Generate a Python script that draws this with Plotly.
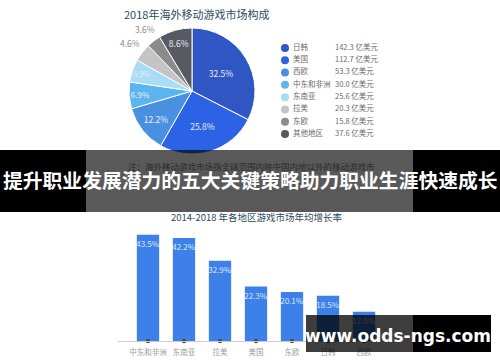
import math
import plotly.graph_objects as go

# ---------------- data ----------------
pie_regions = ['日韩', '美国', '西欧', '中东和非洲', '东南亚', '拉美', '东欧', '其他地区']
pie_values = [142.3, 112.7, 53.3, 30.0, 25.6, 20.3, 15.8, 37.6]
pie_value_labels = ['142.3 亿美元', '112.7 亿美元', '53.3 亿美元', '30.0 亿美元',
                    '25.6 亿美元', '20.3 亿美元', '15.8 亿美元', '37.6 亿美元']
pie_colors = ['#2f56c2', '#2c63e6', '#4a90e2', '#5cb5ee', '#a9dcf6',
              '#c4c4c4', '#8b8b8b', '#575b61']

bar_regions = ['中东和非洲', '东南亚', '拉美', '美国', '东欧', '日韩', '西欧']
bar_values = [43.5, 42.2, 32.9, 22.3, 20.1, 18.5, 12.0]

pie_title = '2018年海外移动游戏市场构成'
bar_title = '2014-2018 年各地区游戏市场年均增长率'
note_text = '注：海外移动游戏市场指全球范围内除中国内地以外的移动游戏市'
banner_title = '提升职业发展潜力的五大关键策略助力职业生涯快速成长'
watermark = 'www.odds-ngs.com'

# ---------------- layout helpers ----------------
W, H = 500, 362
FONT = 'Noto Sans CJK SC'


def px(x):
    return x / W


def py(y):
    return 1 - y / H


def note(x, y, text, size, color, family=FONT):
    return dict(x=px(x), y=py(y), xref='paper', yref='paper', text=text,
                showarrow=False, xanchor='center', yanchor='middle',
                font=dict(family=family, size=size, color=color))


PIE_CX, PIE_CY, PIE_R = 192, 91, 63

fig = go.Figure()

# ---------------- pie ----------------
total = sum(pie_values)
shares = [v / total for v in pie_values]
texts = [f'{s*100:.1f}%' if s >= 0.05 else '' for s in shares]

fig.add_trace(go.Pie(
    labels=pie_regions, values=pie_values, sort=False, direction='clockwise',
    rotation=0, text=texts, textinfo='text', textposition='inside',
    insidetextorientation='horizontal',
    textfont=dict(family=FONT, size=8.5, color='#e9eefa'),
    marker=dict(colors=pie_colors, line=dict(color='#ffffff', width=1)),
    domain=dict(x=[px(PIE_CX - PIE_R), px(PIE_CX + PIE_R)],
                y=[py(PIE_CY + PIE_R), py(PIE_CY - PIE_R)]),
    showlegend=False, hoverinfo='label+value'))

annotations = []
cum = 0.0
for s in shares:
    mid = cum + s / 2
    cum += s
    if s < 0.05:
        th = 2 * math.pi * mid
        rr = PIE_R + 15
        annotations.append(note(PIE_CX + rr * math.sin(th), PIE_CY - rr * math.cos(th),
                                f'{s*100:.1f}%', 8.5, '#8a8a8a'))

# ---------------- legend (scatter on own axes) ----------------
rows = list(range(len(pie_regions)))
fig.add_trace(go.Scatter(
    x=[10] * len(rows), y=rows, mode='markers', xaxis='x3', yaxis='y3',
    marker=dict(size=8, color=pie_colors), showlegend=False, hoverinfo='skip'))
fig.add_trace(go.Scatter(
    x=[18] * len(rows), y=rows, mode='text', text=pie_regions,
    textposition='middle right', xaxis='x3', yaxis='y3',
    textfont=dict(family=FONT, size=7.5, color='#6a6a6a'),
    showlegend=False, hoverinfo='skip'))
fig.add_trace(go.Scatter(
    x=[60] * len(rows), y=rows, mode='text', text=pie_value_labels,
    textposition='middle right', xaxis='x3', yaxis='y3',
    textfont=dict(family=FONT, size=7.5, color='#6a6a6a'),
    showlegend=False, hoverinfo='skip'))

# ---------------- bars ----------------
fig.add_trace(go.Bar(
    x=bar_regions, y=bar_values, xaxis='x2', yaxis='y2', width=0.62,
    marker=dict(color='#3d80ea', line=dict(width=0)),
    texttemplate='%{y:.1f}%', textposition='inside', insidetextanchor='end',
    constraintext='none', textangle=0,
    textfont=dict(family=FONT, size=8, color='#dce8fb'),
    showlegend=False, hoverinfo='x+y'))
fig.add_trace(go.Scatter(
    x=bar_regions, y=[0] * len(bar_regions), xaxis='x2', yaxis='y2',
    mode='markers', marker=dict(size=4.5, color='#4a4a4a'), cliponaxis=False,
    showlegend=False, hoverinfo='skip'))

# ---------------- titles ----------------
annotations += [
    note(196, 14, pie_title, 11, '#2e4b5e'),
    note(257, 217, bar_title, 9.5, '#2e4b5e'),
    note(251, 166, note_text, 8.5, '#2a2a2a'),
    note(250, 179, f'<b>{banner_title}</b>', 19.8, '#ffffff'),
    note(398, 336, f'<b>{watermark}</b>', 17, '#ffffff', 'DejaVu Sans'),
]

shapes = [
    # banner
    dict(type='rect', xref='paper', yref='paper', x0=0, x1=px(86),
         y0=py(212), y1=py(150), fillcolor='#000000', line=dict(width=0), layer='above'),
    dict(type='rect', xref='paper', yref='paper', x0=px(413), x1=1,
         y0=py(212), y1=py(150), fillcolor='#000000', line=dict(width=0), layer='above'),
    dict(type='rect', xref='paper', yref='paper', x0=px(86), x1=px(413),
         y0=py(212), y1=py(150), fillcolor='rgba(0,0,0,0.65)', line=dict(width=0), layer='above'),
    # watermark box
    dict(type='rect', xref='paper', yref='paper', x0=px(306), x1=px(413),
         y0=py(352), y1=py(315), fillcolor='rgba(0,0,0,0.76)', line=dict(width=0), layer='above'),
    dict(type='rect', xref='paper', yref='paper', x0=px(413), x1=px(491),
         y0=py(352), y1=py(315), fillcolor='#000000', line=dict(width=0), layer='above'),
]

fig.update_layout(
    width=W, height=H, margin=dict(l=0, r=0, t=0, b=0),
    paper_bgcolor='#ffffff', plot_bgcolor='rgba(0,0,0,0)',
    font=dict(family=FONT),
    annotations=annotations, shapes=shapes,
    xaxis=dict(visible=False), yaxis=dict(visible=False),
    xaxis2=dict(domain=[px(118), px(394)], range=[-0.833, 6.833], anchor='y2',
                showline=True, linecolor='#cccccc', linewidth=1, showgrid=False,
                zeroline=False, ticks='', ticklabelstandoff=4,
                tickfont=dict(family=FONT, size=7.5, color='#9a9a9a'), fixedrange=True),
    yaxis2=dict(domain=[py(341), py(219)], range=[0, 50], anchor='x2', visible=False,
                fixedrange=True),
    xaxis3=dict(domain=[px(275), px(425)], range=[0, 150], anchor='y3', visible=False),
    yaxis3=dict(domain=[py(140.15), py(41.85)], range=[7.5, -0.5], anchor='x3', visible=False),
)

fig.write_html('out.html', config={'displayModeBar': False},
               post_script="document.body.style.margin='0';document.body.style.overflow='hidden';")
